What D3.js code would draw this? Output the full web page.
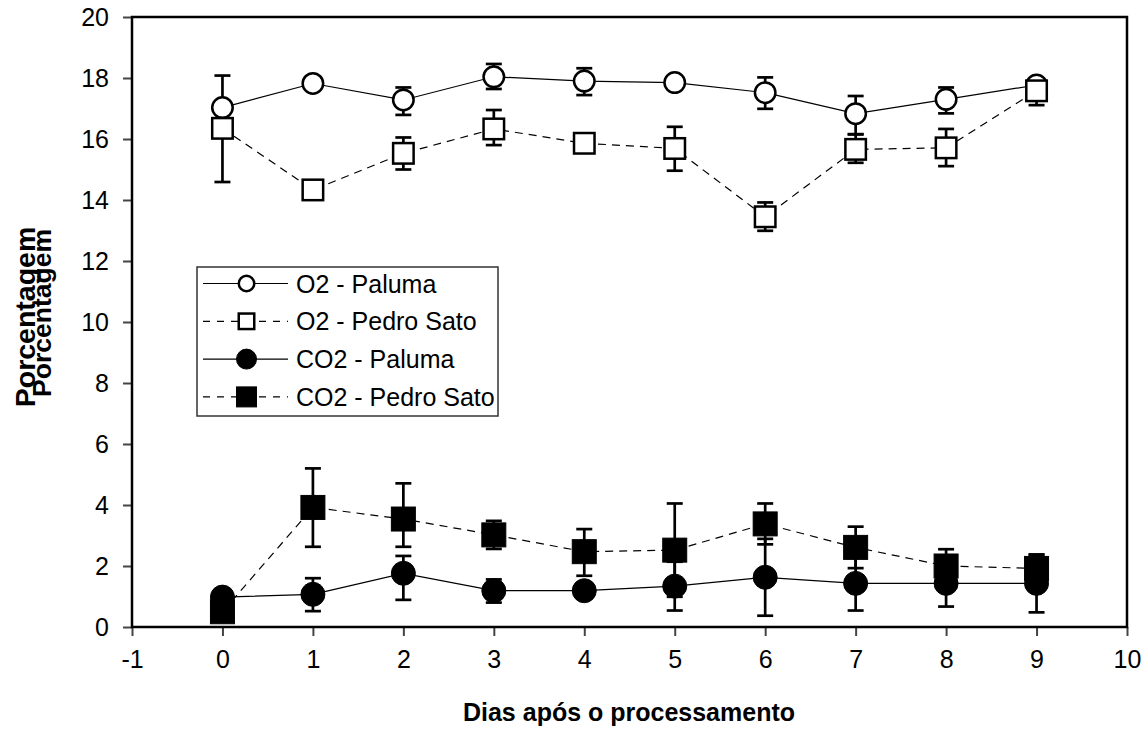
<!DOCTYPE html>
<html lang="pt">
<head>
    <meta charset="UTF-8">
    <title>O2 e CO2 - Paluma e Pedro Sato</title>
    <script src="https://d3js.org/d3.v7.min.js"></script>
    <style>
        body{
            margin: 0;
            background-color: white;
        }
        #canvas{
            display: block;
        }
        .axis text{
            font-family: "Liberation Sans", Arial, sans-serif;
            font-size: 25px;
            fill: black;
        }
        .axis line{
            stroke: #444;
            stroke-width: 2px;
        }
        .axis path{
            display: none;
        }
        .title{
            font-family: "Liberation Sans", Arial, sans-serif;
            font-weight: bold;
            fill: black;
        }
        .legend text{
            font-family: "Liberation Sans", Arial, sans-serif;
            font-size: 25px;
            fill: black;
        }
    </style>
</head>
<body>
    <svg id="canvas" width="1147" height="734"></svg>
    <script>
        // dias e valores
        let days = [0, 1, 2, 3, 4, 5, 6, 7, 8, 9];
        let xTicks = [-1, 0, 1, 2, 3, 4, 5, 6, 7, 8, 9, 10];
        let yTicks = [0, 2, 4, 6, 8, 10, 12, 14, 16, 18, 20];

        let o2Paluma   = [17.03, 17.82, 17.28, 18.04, 17.90, 17.85, 17.52, 16.83, 17.30, 17.77];
        let o2PalumaHi = [null, null, 17.69, 18.46, 18.32, null, 18.02, 17.41, 17.69, null];
        let o2PalumaLo = [null, null, 16.79, 17.64, 17.44, null, 16.99, 16.16, 16.84, null];

        let o2Pedro   = [16.35, 14.33, 15.53, 16.33, 15.86, 15.69, 13.45, 15.66, 15.71, 17.58];
        let o2PedroHi = [18.08, null, 16.05, 16.95, null, 16.40, 13.92, 16.15, 16.33, null];
        let o2PedroLo = [14.59, null, 15.00, 15.80, null, 14.96, 12.99, 15.22, 15.11, 17.11];

        let co2Paluma   = [0.98, 1.07, 1.76, 1.19, 1.19, 1.34, 1.63, 1.43, 1.43, 1.43];
        let co2PalumaHi = [null, 1.60, 2.33, 1.56, null, 2.14, 2.89, 2.32, 2.19, 2.38];
        let co2PalumaLo = [null, 0.52, 0.89, 0.80, null, 0.54, 0.37, 0.54, 0.67, 0.48];

        let co2Pedro   = [0.50, 3.92, 3.54, 3.02, 2.47, 2.52, 3.38, 2.61, 2.00, 1.92];
        let co2PedroHi = [null, 5.20, 4.71, 3.48, 3.21, 4.05, 4.05, 3.29, 2.55, 2.36];
        let co2PedroLo = [null, 2.63, 2.63, 2.56, 1.68, 0.99, 2.71, 1.93, 1.45, 1.48];

        let seriesNames = ["O2 - Paluma", "O2 - Pedro Sato", "CO2 - Paluma", "CO2 - Pedro Sato"];

        let series = [
            {name: seriesNames[0], values: o2Paluma, hi: o2PalumaHi, lo: o2PalumaLo, shape: "circle", fill: "white", dash: null},
            {name: seriesNames[1], values: o2Pedro, hi: o2PedroHi, lo: o2PedroLo, shape: "square", fill: "white", dash: "8,6"},
            {name: seriesNames[2], values: co2Paluma, hi: co2PalumaHi, lo: co2PalumaLo, shape: "circle", fill: "black", dash: null},
            {name: seriesNames[3], values: co2Pedro, hi: co2PedroHi, lo: co2PedroLo, shape: "square", fill: "black", dash: "8,6"}
        ];

        let svg = d3.select('#canvas');
        let plot = {left: 132, right: 1127, top: 17, bottom: 627};

        let xscale = d3.scaleLinear().domain([-1, 10]).range([plot.left, plot.right]);
        let yscale = d3.scaleLinear().domain([0, 20]).range([plot.bottom, plot.top]);

        // plain hyphen for negatives, like the original
        let plainFormat = function (d) { return String(d); };

        // axes
        svg.append("g").attr("class", "axis")
            .attr("transform", `translate(${plot.left},0)`)
            .call(d3.axisLeft(yscale).tickValues(yTicks).tickFormat(plainFormat)
                .tickSize(9).tickSizeOuter(0).tickPadding(14));
        svg.append("g").attr("class", "axis")
            .attr("transform", `translate(0,${plot.bottom})`)
            .call(d3.axisBottom(xscale).tickValues(xTicks).tickFormat(plainFormat)
                .tickSize(9).tickSizeOuter(0).tickPadding(14));

        // frame
        svg.append("rect")
            .attr("x", plot.left).attr("y", plot.top)
            .attr("width", plot.right - plot.left).attr("height", plot.bottom - plot.top)
            .attr("fill", "none").attr("stroke", "black").attr("stroke-width", 2.5);

        // flatten points
        let points = [];
        series.forEach(function (s, si) {
            days.forEach(function (d, i) {
                points.push({si: si, s: s, x: d, y: s.values[i], hi: s.hi[i], lo: s.lo[i]});
            });
        });

        // error bars first
        let capW = 8;
        let errG = svg.append("g").attr("stroke", "black").attr("stroke-width", 2.7);
        points.forEach(function (p) {
            [p.hi, p.lo].forEach(function (v) {
                if (v === null) return;
                errG.append("line")
                    .attr("x1", xscale(p.x)).attr("x2", xscale(p.x))
                    .attr("y1", yscale(p.y)).attr("y2", yscale(v));
                errG.append("line")
                    .attr("x1", xscale(p.x) - capW).attr("x2", xscale(p.x) + capW)
                    .attr("y1", yscale(v)).attr("y2", yscale(v));
            });
        });

        // lines
        let line_generator = d3.line()
            .x(function (d, i) { return xscale(days[i]); })
            .y(function (d) { return yscale(d); });

        series.forEach(function (s) {
            svg.append("path")
                .attr("d", line_generator(s.values))
                .attr("fill", "none")
                .attr("stroke", "black")
                .attr("stroke-width", 1.2)
                .attr("stroke-dasharray", s.dash);
        });

        // markers
        function drawMarker(g, shape, fill, cx, cy, size) {
            let open = fill === "white";
            let sw = open ? 2.5 : 1;
            let r = open ? size / 2 - sw / 2 : size / 2;
            if (shape === "circle") {
                g.append("circle").attr("cx", cx).attr("cy", cy).attr("r", r)
                    .attr("fill", fill).attr("stroke", "black").attr("stroke-width", sw);
            } else {
                g.append("rect").attr("x", cx - r).attr("y", cy - r)
                    .attr("width", 2 * r).attr("height", 2 * r)
                    .attr("fill", fill).attr("stroke", "black").attr("stroke-width", sw);
            }
        }

        let markG = svg.append("g");
        series.forEach(function (s) {
            s.values.forEach(function (v, i) {
                drawMarker(markG, s.shape, s.fill, xscale(days[i]), yscale(v), s.fill === "white" ? 23 : 24);
            });
        });

        // legend
        let legend = svg.append("g").attr("class", "legend");
        legend.append("rect")
            .attr("x", 197).attr("y", 267).attr("width", 301).attr("height", 149)
            .attr("fill", "white").attr("stroke", "#333").attr("stroke-width", 1.5);
        series.forEach(function (s, i) {
            let cy = 283.5 + i * 37.8;
            legend.append("line")
                .attr("x1", 203).attr("x2", 288).attr("y1", cy).attr("y2", cy)
                .attr("stroke", "black").attr("stroke-width", 1.2)
                .attr("stroke-dasharray", s.dash ? "7,7" : null);
            drawMarker(legend, s.shape, s.fill, 246.5, cy, s.fill === "white" ? 18 : 20);
            legend.append("text")
                .attr("x", 296).attr("y", cy + 9)
                .text(s.name);
        });

        // titles
        svg.append("text").attr("class", "title")
            .attr("x", 629).attr("y", 721)
            .attr("text-anchor", "middle")
            .style("font-size", "25px")
            .text("Dias após o processamento");

        svg.append("text").attr("class", "title")
            .attr("transform", "translate(35,317) rotate(-90)")
            .attr("text-anchor", "middle")
            .style("font-size", "28.5px")
            .text("Porcentagem");
        svg.append("text").attr("class", "title")
            .attr("transform", "translate(51,313) rotate(-90)")
            .attr("text-anchor", "middle")
            .style("font-size", "26.5px")
            .text("Porcentagem");
    </script>
</body>
</html>
